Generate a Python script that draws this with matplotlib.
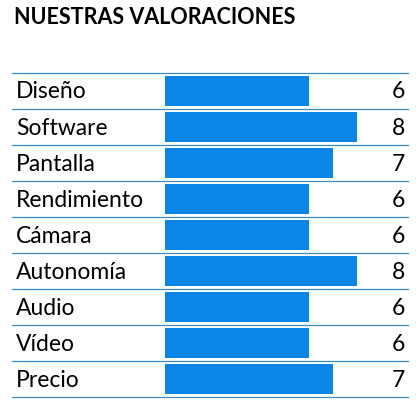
import matplotlib.pyplot as plt

categories = ["Diseño", "Software", "Pantalla", "Rendimiento", "Cámara",
              "Autonomía", "Audio", "Vídeo", "Precio"]
scores = [6, 8, 7, 6, 6, 8, 6, 6, 7]

plt.rcParams['font.family'] = ['Lato', 'DejaVu Sans']

W, H = 420, 411
fig = plt.figure(figsize=(W / 100, H / 100), dpi=100)

# bar axis: x from 165px to 405px covers 0..10
top, bottom = 73, 397
ax = fig.add_axes([165 / W, 1 - bottom / H, 240 / W, (bottom - top) / H])
ax.set_xlim(0, 10)
ax.set_ylim(len(categories), 0)
ax.axis('off')
ax.barh([i + 0.5 for i in range(len(categories))], scores, height=0.86,
        color='#0a86e8', left=0)

# row lines and labels in figure pixel coords
bg = fig.add_axes([0, 0, 1, 1], zorder=-1)
bg.set_xlim(0, W)
bg.set_ylim(H, 0)
bg.axis('off')
row_h = (bottom - top) / len(categories)
for i in range(len(categories) + 1):
    y = top + i * row_h
    bg.plot([12, 408], [y, y], color='#3a8fc8', lw=0.9)
for i, (cat, val) in enumerate(zip(categories, scores)):
    yc = top + (i + 0.5) * row_h + 1
    bg.text(16, yc, cat, fontsize=16.5, va='center', ha='left')
    bg.text(405, yc, str(val), fontsize=16.5, va='center', ha='right')

bg.text(14, 18, "NUESTRAS VALORACIONES", fontsize=15.5, fontweight='bold',
        va='center', ha='left')

fig.savefig("out.png", dpi=100)
